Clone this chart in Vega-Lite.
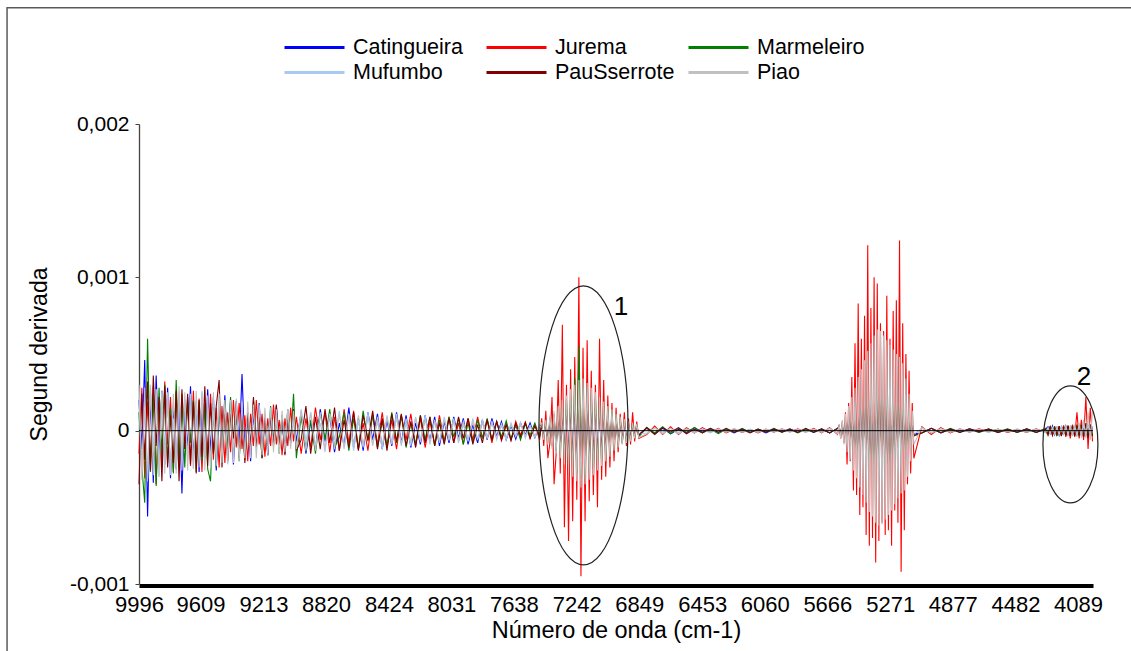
{
  "$schema": "https://vega.github.io/schema/vega-lite/v6.json",
  "width": 954,
  "height": 460,
  "autosize": {"type": "none"},
  "padding": {"left": 139, "top": 124, "right": 38, "bottom": 67},
  "background": "#ffffff",
  "config": {"view": {"stroke": null}, "font": "Liberation Sans"},
  "datasets": {
    "espectros": [
      {"x":9996,"Catingueira":2.0e-4,"Jurema":-1.5e-4,"Marmeleiro":1.2e-4,"Mufumbo":2.2e-4,"PauSserrote":-3.5e-4,"Piao":3.0e-4},
      {"x":9978,"Catingueira":-1.2e-4,"Jurema":2.8e-4,"Marmeleiro":-2.4e-4,"Mufumbo":-2.6e-4,"PauSserrote":2.4e-4,"Piao":-3.2e-4},
      {"x":9960,"Catingueira":4.6e-4,"Jurema":-3.1e-4,"Marmeleiro":-4.7e-4,"Mufumbo":1.4e-4,"PauSserrote":-1.9e-4,"Piao":2.8e-4},
      {"x":9942,"Catingueira":-5.6e-4,"Jurema":1.9e-4,"Marmeleiro":6.0e-4,"Mufumbo":-3.3e-4,"PauSserrote":3.2e-4,"Piao":-3.1e-4},
      {"x":9924,"Catingueira":2.5e-4,"Jurema":-2.2e-4,"Marmeleiro":-2.7e-4,"Mufumbo":2.9e-4,"PauSserrote":-2.6e-4,"Piao":3.0e-4},
      {"x":9906,"Catingueira":-3.4e-4,"Jurema":2.9e-4,"Marmeleiro":2.3e-4,"Mufumbo":-1.4e-4,"PauSserrote":3.6e-4,"Piao":-2.9e-4},
      {"x":9888,"Catingueira":3.6e-4,"Jurema":-3.5e-4,"Marmeleiro":-3.6e-4,"Mufumbo":2.7e-4,"PauSserrote":-1.0e-4,"Piao":2.7e-4},
      {"x":9870,"Catingueira":-1.6e-4,"Jurema":1.6e-4,"Marmeleiro":2.8e-4,"Mufumbo":-3.0e-4,"PauSserrote":2.2e-4,"Piao":-3.0e-4},
      {"x":9852,"Catingueira":2.6e-4,"Jurema":-2.4e-4,"Marmeleiro":-1.5e-4,"Mufumbo":2.5e-4,"PauSserrote":-3.3e-4,"Piao":2.6e-4},
      {"x":9834,"Catingueira":-2.2e-4,"Jurema":3.2e-4,"Marmeleiro":3.0e-4,"Mufumbo":-1.8e-4,"PauSserrote":2.9e-4,"Piao":-2.8e-4},
      {"x":9816,"Catingueira":2.8e-4,"Jurema":-0.9e-4,"Marmeleiro":-2.1e-4,"Mufumbo":2.3e-4,"PauSserrote":-2.4e-4,"Piao":2.5e-4},
      {"x":9798,"Catingueira":-3.1e-4,"Jurema":2.2e-4,"Marmeleiro":1.5e-4,"Mufumbo":-2.6e-4,"PauSserrote":1.0e-4,"Piao":-2.9e-4},
      {"x":9780,"Catingueira":1.7e-4,"Jurema":-2.7e-4,"Marmeleiro":-2.8e-4,"Mufumbo":0.8e-4,"PauSserrote":-2.1e-4,"Piao":2.4e-4},
      {"x":9762,"Catingueira":-2.5e-4,"Jurema":2.5e-4,"Marmeleiro":3.3e-4,"Mufumbo":-2.2e-4,"PauSserrote":2.6e-4,"Piao":-2.8e-4},
      {"x":9744,"Catingueira":2.2e-4,"Jurema":-2.0e-4,"Marmeleiro":-2.2e-4,"Mufumbo":2.5e-4,"PauSserrote":-3.3e-4,"Piao":2.9e-4},
      {"x":9726,"Catingueira":-4.1e-4,"Jurema":2.4e-4,"Marmeleiro":1.9e-4,"Mufumbo":-2.0e-4,"PauSserrote":2.7e-4,"Piao":-2.6e-4},
      {"x":9708,"Catingueira":2.0e-4,"Jurema":-1.2e-4,"Marmeleiro":-2.4e-4,"Mufumbo":2.2e-4,"PauSserrote":-1.2e-4,"Piao":2.5e-4},
      {"x":9690,"Catingueira":-1.3e-4,"Jurema":1.9e-4,"Marmeleiro":2.2e-4,"Mufumbo":-1.9e-4,"PauSserrote":2.4e-4,"Piao":-2.6e-4},
      {"x":9672,"Catingueira":2.9e-4,"Jurema":-2.3e-4,"Marmeleiro":-0.8e-4,"Mufumbo":2.1e-4,"PauSserrote":-2.2e-4,"Piao":2.4e-4},
      {"x":9654,"Catingueira":-2.0e-4,"Jurema":2.6e-4,"Marmeleiro":2.0e-4,"Mufumbo":-2.4e-4,"PauSserrote":1.9e-4,"Piao":-2.5e-4},
      {"x":9636,"Catingueira":1.9e-4,"Jurema":-1.8e-4,"Marmeleiro":-2.7e-4,"Mufumbo":1.8e-4,"PauSserrote":-2.8e-4,"Piao":2.6e-4},
      {"x":9618,"Catingueira":-2.7e-4,"Jurema":2.1e-4,"Marmeleiro":1.9e-4,"Mufumbo":-1.7e-4,"PauSserrote":2.0e-4,"Piao":-2.4e-4},
      {"x":9600,"Catingueira":1.6e-4,"Jurema":-2.7e-4,"Marmeleiro":-2.0e-4,"Mufumbo":2.6e-4,"PauSserrote":-1.7e-4,"Piao":2.5e-4},
      {"x":9582,"Catingueira":-1.8e-4,"Jurema":1.8e-4,"Marmeleiro":1.6e-4,"Mufumbo":-1.6e-4,"PauSserrote":2.9e-4,"Piao":-2.6e-4},
      {"x":9564,"Catingueira":2.7e-4,"Jurema":-1.5e-4,"Marmeleiro":-2.5e-4,"Mufumbo":1.5e-4,"PauSserrote":-2.3e-4,"Piao":2.3e-4},
      {"x":9546,"Catingueira":-1.5e-4,"Jurema":2.4e-4,"Marmeleiro":-3.3e-4,"Mufumbo":-2.4e-4,"PauSserrote":1.8e-4,"Piao":-2.4e-4},
      {"x":9528,"Catingueira":2.2e-4,"Jurema":-1.9e-4,"Marmeleiro":1.6e-4,"Mufumbo":1.4e-4,"PauSserrote":-1.5e-4,"Piao":2.5e-4},
      {"x":9510,"Catingueira":-2.6e-4,"Jurema":1.5e-4,"Marmeleiro":-2.4e-4,"Mufumbo":-1.5e-4,"PauSserrote":1.6e-4,"Piao":-2.3e-4},
      {"x":9492,"Catingueira":1.6e-4,"Jurema":-2.4e-4,"Marmeleiro":1.8e-4,"Mufumbo":2.3e-4,"PauSserrote":3.3e-4,"Piao":2.4e-4},
      {"x":9474,"Catingueira":-1.7e-4,"Jurema":1.6e-4,"Marmeleiro":-1.4e-4,"Mufumbo":-1.4e-4,"PauSserrote":-2.4e-4,"Piao":-2.1e-4},
      {"x":9456,"Catingueira":2.3e-4,"Jurema":-2.1e-4,"Marmeleiro":2.0e-4,"Mufumbo":1.2e-4,"PauSserrote":1.3e-4,"Piao":2.0e-4},
      {"x":9438,"Catingueira":-1.4e-4,"Jurema":1.2e-4,"Marmeleiro":-1.3e-4,"Mufumbo":-2.2e-4,"PauSserrote":-2.0e-4,"Piao":-2.1e-4},
      {"x":9420,"Catingueira":2.0e-4,"Jurema":-1.4e-4,"Marmeleiro":2.2e-4,"Mufumbo":1.3e-4,"PauSserrote":1.1e-4,"Piao":2.0e-4},
      {"x":9402,"Catingueira":-2.2e-4,"Jurema":2.0e-4,"Marmeleiro":-1.4e-4,"Mufumbo":-1.2e-4,"PauSserrote":-0.5e-4,"Piao":-2.1e-4},
      {"x":9384,"Catingueira":1.3e-4,"Jurema":-1.1e-4,"Marmeleiro":1.3e-4,"Mufumbo":2.1e-4,"PauSserrote":1.9e-4,"Piao":1.9e-4},
      {"x":9366,"Catingueira":-1.1e-4,"Jurema":1.8e-4,"Marmeleiro":-2.0e-4,"Mufumbo":-1.4e-4,"PauSserrote":-1.7e-4,"Piao":-2.0e-4},
      {"x":9348,"Catingueira":3.7e-4,"Jurema":-1.2e-4,"Marmeleiro":1.2e-4,"Mufumbo":1.0e-4,"PauSserrote":1.1e-4,"Piao":1.9e-4},
      {"x":9330,"Catingueira":-1.2e-4,"Jurema":1.0e-4,"Marmeleiro":-1.9e-4,"Mufumbo":-1.8e-4,"PauSserrote":-2.1e-4,"Piao":-1.8e-4},
      {"x":9312,"Catingueira":1.0e-4,"Jurema":-2.0e-4,"Marmeleiro":1.0e-4,"Mufumbo":1.1e-4,"PauSserrote":1.2e-4,"Piao":1.9e-4},
      {"x":9294,"Catingueira":-2.0e-4,"Jurema":1.1e-4,"Marmeleiro":-1.2e-4,"Mufumbo":-1.0e-4,"PauSserrote":-1.0e-4,"Piao":-1.8e-4},
      {"x":9276,"Catingueira":1.1e-4,"Jurema":-1.0e-4,"Marmeleiro":2.0e-4,"Mufumbo":1.9e-4,"PauSserrote":2.2e-4,"Piao":1.7e-4},
      {"x":9258,"Catingueira":-0.9e-4,"Jurema":2.0e-4,"Marmeleiro":-1.0e-4,"Mufumbo":-0.8e-4,"PauSserrote":-1.1e-4,"Piao":-1.8e-4},
      {"x":9240,"Catingueira":1.8e-4,"Jurema":-0.9e-4,"Marmeleiro":1.1e-4,"Mufumbo":1.0e-4,"PauSserrote":0.9e-4,"Piao":1.7e-4},
      {"x":9222,"Catingueira":-1.3e-4,"Jurema":1.1e-4,"Marmeleiro":-1.8e-4,"Mufumbo":-1.6e-4,"PauSserrote":-1.8e-4,"Piao":-1.6e-4},
      {"x":9204,"Catingueira":1.0e-4,"Jurema":-1.7e-4,"Marmeleiro":0.8e-4,"Mufumbo":0.9e-4,"PauSserrote":1.0e-4,"Piao":1.5e-4},
      {"x":9186,"Catingueira":-1.6e-4,"Jurema":0.8e-4,"Marmeleiro":-1.0e-4,"Mufumbo":-0.8e-4,"PauSserrote":-1.6e-4,"Piao":-1.6e-4},
      {"x":9168,"Catingueira":1.0e-4,"Jurema":-1.0e-4,"Marmeleiro":1.6e-4,"Mufumbo":1.5e-4,"PauSserrote":1.1e-4,"Piao":1.5e-4},
      {"x":9150,"Catingueira":-0.8e-4,"Jurema":1.7e-4,"Marmeleiro":-0.7e-4,"Mufumbo":-0.9e-4,"PauSserrote":-1.0e-4,"Piao":-1.4e-4},
      {"x":9132,"Catingueira":1.6e-4,"Jurema":-0.9e-4,"Marmeleiro":0.8e-4,"Mufumbo":0.8e-4,"PauSserrote":1.7e-4,"Piao":1.4e-4},
      {"x":9114,"Catingueira":-1.0e-4,"Jurema":0.7e-4,"Marmeleiro":-1.5e-4,"Mufumbo":-1.4e-4,"PauSserrote":-0.9e-4,"Piao":-1.5e-4},
      {"x":9096,"Catingueira":0.7e-4,"Jurema":-1.6e-4,"Marmeleiro":0.9e-4,"Mufumbo":0.7e-4,"PauSserrote":1.0e-4,"Piao":1.3e-4},
      {"x":9078,"Catingueira":-1.5e-4,"Jurema":0.8e-4,"Marmeleiro":-0.8e-4,"Mufumbo":-0.6e-4,"PauSserrote":-1.6e-4,"Piao":-1.4e-4},
      {"x":9060,"Catingueira":0.9e-4,"Jurema":-1.0e-4,"Marmeleiro":1.4e-4,"Mufumbo":1.4e-4,"PauSserrote":0.8e-4,"Piao":1.3e-4},
      {"x":9042,"Catingueira":-0.8e-4,"Jurema":1.5e-4,"Marmeleiro":-0.8e-4,"Mufumbo":-0.7e-4,"PauSserrote":-0.7e-4,"Piao":-1.2e-4},
      {"x":9024,"Catingueira":1.4e-4,"Jurema":-0.7e-4,"Marmeleiro":2.4e-4,"Mufumbo":0.6e-4,"PauSserrote":1.4e-4,"Piao":1.3e-4},
      {"x":9006,"Catingueira":-0.7e-4,"Jurema":0.9e-4,"Marmeleiro":-1.8e-4,"Mufumbo":-1.3e-4,"PauSserrote":-1.3e-4,"Piao":-1.2e-4},
      {"x":8976,"Catingueira":1.2e-4,"Jurema":-1.5e-4,"Marmeleiro":1.0e-4,"Mufumbo":1.4e-4,"PauSserrote":-0.6e-4,"Piao":1.3e-4},
      {"x":8946,"Catingueira":-1.5e-4,"Jurema":0.8e-4,"Marmeleiro":-1.3e-4,"Mufumbo":-0.7e-4,"PauSserrote":1.6e-4,"Piao":-1.3e-4},
      {"x":8916,"Catingueira":0.6e-4,"Jurema":-1.1e-4,"Marmeleiro":0.7e-4,"Mufumbo":1.2e-4,"PauSserrote":-1.5e-4,"Piao":1.2e-4},
      {"x":8886,"Catingueira":-1.2e-4,"Jurema":1.5e-4,"Marmeleiro":-1.5e-4,"Mufumbo":-1.0e-4,"PauSserrote":0.9e-4,"Piao":-1.3e-4},
      {"x":8856,"Catingueira":1.4e-4,"Jurema":-0.6e-4,"Marmeleiro":1.2e-4,"Mufumbo":0.5e-4,"PauSserrote":-1.2e-4,"Piao":1.2e-4},
      {"x":8826,"Catingueira":-0.7e-4,"Jurema":1.2e-4,"Marmeleiro":-0.6e-4,"Mufumbo":-1.4e-4,"PauSserrote":1.4e-4,"Piao":-1.2e-4},
      {"x":8796,"Catingueira":1.0e-4,"Jurema":-1.4e-4,"Marmeleiro":1.4e-4,"Mufumbo":1.1e-4,"PauSserrote":-0.8e-4,"Piao":1.1e-4},
      {"x":8766,"Catingueira":-1.4e-4,"Jurema":0.9e-4,"Marmeleiro":-1.1e-4,"Mufumbo":-0.6e-4,"PauSserrote":1.5e-4,"Piao":-1.2e-4},
      {"x":8736,"Catingueira":0.5e-4,"Jurema":-1.3e-4,"Marmeleiro":-0.4e-4,"Mufumbo":1.3e-4,"PauSserrote":-1.3e-4,"Piao":1.1e-4},
      {"x":8706,"Catingueira":-1.0e-4,"Jurema":1.4e-4,"Marmeleiro":1.2e-4,"Mufumbo":-1.2e-4,"PauSserrote":0.7e-4,"Piao":-1.1e-4},
      {"x":8676,"Catingueira":1.5e-4,"Jurema":-0.8e-4,"Marmeleiro":-1.3e-4,"Mufumbo":0.9e-4,"PauSserrote":-1.1e-4,"Piao":1.1e-4},
      {"x":8646,"Catingueira":-1.1e-4,"Jurema":1.3e-4,"Marmeleiro":0.8e-4,"Mufumbo":-1.3e-4,"PauSserrote":1.2e-4,"Piao":-1.0e-4},
      {"x":8616,"Catingueira":0.8e-4,"Jurema":-1.2e-4,"Marmeleiro":-1.2e-4,"Mufumbo":0.7e-4,"PauSserrote":-1.3e-4,"Piao":1.0e-4},
      {"x":8586,"Catingueira":-1.3e-4,"Jurema":0.5e-4,"Marmeleiro":1.3e-4,"Mufumbo":-1.1e-4,"PauSserrote":1.0e-4,"Piao":-1.0e-4},
      {"x":8556,"Catingueira":1.2e-4,"Jurema":-1.3e-4,"Marmeleiro":-0.7e-4,"Mufumbo":1.2e-4,"PauSserrote":-0.6e-4,"Piao":0.95e-4},
      {"x":8526,"Catingueira":-0.6e-4,"Jurema":1.1e-4,"Marmeleiro":1.0e-4,"Mufumbo":-0.9e-4,"PauSserrote":1.3e-4,"Piao":-1.0e-4},
      {"x":8496,"Catingueira":1.1e-4,"Jurema":-0.9e-4,"Marmeleiro":-1.1e-4,"Mufumbo":0.6e-4,"PauSserrote":-1.2e-4,"Piao":0.9e-4},
      {"x":8466,"Catingueira":-1.2e-4,"Jurema":1.2e-4,"Marmeleiro":0.6e-4,"Mufumbo":-1.2e-4,"PauSserrote":0.8e-4,"Piao":-0.95e-4},
      {"x":8436,"Catingueira":0.7e-4,"Jurema":-1.1e-4,"Marmeleiro":-1.0e-4,"Mufumbo":1.0e-4,"PauSserrote":-1.3e-4,"Piao":0.9e-4},
      {"x":8406,"Catingueira":-1.0e-4,"Jurema":0.7e-4,"Marmeleiro":1.2e-4,"Mufumbo":-0.8e-4,"PauSserrote":1.1e-4,"Piao":-0.9e-4},
      {"x":8376,"Catingueira":1.2e-4,"Jurema":-1.2e-4,"Marmeleiro":-0.8e-4,"Mufumbo":1.1e-4,"PauSserrote":-0.7e-4,"Piao":0.85e-4},
      {"x":8346,"Catingueira":-0.8e-4,"Jurema":1.0e-4,"Marmeleiro":1.0e-4,"Mufumbo":-1.0e-4,"PauSserrote":1.1e-4,"Piao":-0.85e-4},
      {"x":8316,"Catingueira":1.0e-4,"Jurema":-0.6e-4,"Marmeleiro":-1.1e-4,"Mufumbo":0.5e-4,"PauSserrote":-1.0e-4,"Piao":0.8e-4},
      {"x":8286,"Catingueira":-1.1e-4,"Jurema":1.1e-4,"Marmeleiro":0.5e-4,"Mufumbo":-1.0e-4,"PauSserrote":0.6e-4,"Piao":-0.8e-4},
      {"x":8256,"Catingueira":0.5e-4,"Jurema":-1.0e-4,"Marmeleiro":-0.9e-4,"Mufumbo":0.9e-4,"PauSserrote":-1.1e-4,"Piao":0.8e-4},
      {"x":8226,"Catingueira":-0.9e-4,"Jurema":0.8e-4,"Marmeleiro":1.0e-4,"Mufumbo":-0.6e-4,"PauSserrote":1.0e-4,"Piao":-0.75e-4},
      {"x":8196,"Catingueira":1.0e-4,"Jurema":-1.1e-4,"Marmeleiro":-0.6e-4,"Mufumbo":1.0e-4,"PauSserrote":-0.8e-4,"Piao":0.75e-4},
      {"x":8166,"Catingueira":-0.7e-4,"Jurema":0.6e-4,"Marmeleiro":0.9e-4,"Mufumbo":-0.9e-4,"PauSserrote":0.9e-4,"Piao":-0.75e-4},
      {"x":8136,"Catingueira":0.9e-4,"Jurema":-0.9e-4,"Marmeleiro":-1.0e-4,"Mufumbo":0.6e-4,"PauSserrote":-1.0e-4,"Piao":0.7e-4},
      {"x":8106,"Catingueira":-1.0e-4,"Jurema":1.0e-4,"Marmeleiro":0.7e-4,"Mufumbo":-0.8e-4,"PauSserrote":0.5e-4,"Piao":-0.7e-4},
      {"x":8076,"Catingueira":0.6e-4,"Jurema":-0.7e-4,"Marmeleiro":-0.8e-4,"Mufumbo":0.9e-4,"PauSserrote":-0.9e-4,"Piao":0.7e-4},
      {"x":8046,"Catingueira":-0.8e-4,"Jurema":0.9e-4,"Marmeleiro":0.9e-4,"Mufumbo":-0.5e-4,"PauSserrote":0.8e-4,"Piao":-0.65e-4},
      {"x":8016,"Catingueira":0.9e-4,"Jurema":-0.8e-4,"Marmeleiro":-0.4e-4,"Mufumbo":0.8e-4,"PauSserrote":-0.8e-4,"Piao":0.6e-4},
      {"x":7986,"Catingueira":-0.5e-4,"Jurema":0.5e-4,"Marmeleiro":0.8e-4,"Mufumbo":-0.8e-4,"PauSserrote":0.9e-4,"Piao":-0.6e-4},
      {"x":7956,"Catingueira":0.8e-4,"Jurema":-0.9e-4,"Marmeleiro":-0.9e-4,"Mufumbo":0.4e-4,"PauSserrote":-0.5e-4,"Piao":0.6e-4},
      {"x":7926,"Catingueira":-0.9e-4,"Jurema":0.8e-4,"Marmeleiro":0.5e-4,"Mufumbo":-0.7e-4,"PauSserrote":0.8e-4,"Piao":-0.55e-4},
      {"x":7896,"Catingueira":0.4e-4,"Jurema":-0.6e-4,"Marmeleiro":-0.8e-4,"Mufumbo":0.8e-4,"PauSserrote":-0.9e-4,"Piao":0.55e-4},
      {"x":7866,"Catingueira":-0.8e-4,"Jurema":0.9e-4,"Marmeleiro":0.7e-4,"Mufumbo":-0.6e-4,"PauSserrote":0.4e-4,"Piao":-0.55e-4},
      {"x":7836,"Catingueira":0.7e-4,"Jurema":-0.5e-4,"Marmeleiro":-0.5e-4,"Mufumbo":0.7e-4,"PauSserrote":-0.8e-4,"Piao":0.5e-4},
      {"x":7806,"Catingueira":-0.6e-4,"Jurema":0.7e-4,"Marmeleiro":0.8e-4,"Mufumbo":-0.4e-4,"PauSserrote":0.7e-4,"Piao":-0.5e-4},
      {"x":7776,"Catingueira":0.8e-4,"Jurema":-0.8e-4,"Marmeleiro":-0.6e-4,"Mufumbo":0.6e-4,"PauSserrote":-0.6e-4,"Piao":0.5e-4},
      {"x":7746,"Catingueira":-0.4e-4,"Jurema":0.6e-4,"Marmeleiro":0.6e-4,"Mufumbo":-0.6e-4,"PauSserrote":0.6e-4,"Piao":-0.45e-4},
      {"x":7716,"Catingueira":0.6e-4,"Jurema":-0.65e-4,"Marmeleiro":-0.4e-4,"Mufumbo":0.35e-4,"PauSserrote":-0.6e-4,"Piao":0.45e-4},
      {"x":7686,"Catingueira":-0.6e-4,"Jurema":0.4e-4,"Marmeleiro":0.65e-4,"Mufumbo":-0.6e-4,"PauSserrote":0.4e-4,"Piao":-0.45e-4},
      {"x":7656,"Catingueira":0.35e-4,"Jurema":-0.6e-4,"Marmeleiro":-0.55e-4,"Mufumbo":0.5e-4,"PauSserrote":-0.65e-4,"Piao":0.4e-4},
      {"x":7626,"Catingueira":-0.55e-4,"Jurema":0.6e-4,"Marmeleiro":0.35e-4,"Mufumbo":-0.3e-4,"PauSserrote":0.5e-4,"Piao":-0.4e-4},
      {"x":7596,"Catingueira":0.5e-4,"Jurema":-0.3e-4,"Marmeleiro":-0.6e-4,"Mufumbo":0.55e-4,"PauSserrote":-0.4e-4,"Piao":0.4e-4},
      {"x":7566,"Catingueira":-0.3e-4,"Jurema":0.55e-4,"Marmeleiro":0.45e-4,"Mufumbo":-0.5e-4,"PauSserrote":0.55e-4,"Piao":-0.35e-4},
      {"x":7536,"Catingueira":0.5e-4,"Jurema":-0.5e-4,"Marmeleiro":-0.3e-4,"Mufumbo":0.3e-4,"PauSserrote":-0.5e-4,"Piao":0.35e-4},
      {"x":7506,"Catingueira":-0.45e-4,"Jurema":0.4e-4,"Marmeleiro":0.5e-4,"Mufumbo":-0.45e-4,"PauSserrote":0.3e-4,"Piao":-0.35e-4},
      {"x":7476,"Catingueira":0.3e-4,"Jurema":-0.6e-4,"Marmeleiro":-0.4e-4,"Mufumbo":0.3e-4,"PauSserrote":-0.35e-4,"Piao":0.4e-4},
      {"x":7463,"Catingueira":0.3e-4,"Jurema":0.8e-4,"Marmeleiro":0.4e-4,"Mufumbo":0.2e-4,"PauSserrote":0.3e-4,"Piao":0.5e-4},
      {"x":7450,"Catingueira":-0.3e-4,"Jurema":-1.0e-4,"Marmeleiro":-0.5e-4,"Mufumbo":-0.2e-4,"PauSserrote":-0.35e-4,"Piao":-0.6e-4},
      {"x":7437,"Catingueira":0.35e-4,"Jurema":1.3e-4,"Marmeleiro":0.6e-4,"Mufumbo":0.25e-4,"PauSserrote":0.4e-4,"Piao":0.7e-4},
      {"x":7424,"Catingueira":-0.4e-4,"Jurema":-1.8e-4,"Marmeleiro":-0.8e-4,"Mufumbo":-0.3e-4,"PauSserrote":-0.5e-4,"Piao":-0.9e-4},
      {"x":7411,"Catingueira":0.4e-4,"Jurema":-0.8e-4,"Marmeleiro":0.85e-4,"Mufumbo":0.3e-4,"PauSserrote":0.55e-4,"Piao":1.0e-4},
      {"x":7398,"Catingueira":-0.45e-4,"Jurema":2.2e-4,"Marmeleiro":-1.0e-4,"Mufumbo":-0.35e-4,"PauSserrote":-0.7e-4,"Piao":-1.2e-4},
      {"x":7385,"Catingueira":0.5e-4,"Jurema":-3.5e-4,"Marmeleiro":1.1e-4,"Mufumbo":0.4e-4,"PauSserrote":0.75e-4,"Piao":1.3e-4},
      {"x":7372,"Catingueira":-0.5e-4,"Jurema":-1.5e-4,"Marmeleiro":-1.3e-4,"Mufumbo":-0.4e-4,"PauSserrote":-0.9e-4,"Piao":-1.5e-4},
      {"x":7359,"Catingueira":0.55e-4,"Jurema":3.3e-4,"Marmeleiro":1.4e-4,"Mufumbo":0.45e-4,"PauSserrote":0.95e-4,"Piao":1.6e-4},
      {"x":7346,"Catingueira":-0.6e-4,"Jurema":-2.8e-4,"Marmeleiro":-1.5e-4,"Mufumbo":-0.5e-4,"PauSserrote":-1.1e-4,"Piao":-1.8e-4},
      {"x":7333,"Catingueira":0.6e-4,"Jurema":6.9e-4,"Marmeleiro":1.7e-4,"Mufumbo":0.5e-4,"PauSserrote":1.2e-4,"Piao":2.0e-4},
      {"x":7320,"Catingueira":-0.7e-4,"Jurema":-6.3e-4,"Marmeleiro":-1.9e-4,"Mufumbo":-0.55e-4,"PauSserrote":-1.3e-4,"Piao":-2.2e-4},
      {"x":7307,"Catingueira":0.7e-4,"Jurema":3.0e-4,"Marmeleiro":2.0e-4,"Mufumbo":0.6e-4,"PauSserrote":1.4e-4,"Piao":2.3e-4},
      {"x":7294,"Catingueira":-0.75e-4,"Jurema":-7.2e-4,"Marmeleiro":-2.2e-4,"Mufumbo":-0.6e-4,"PauSserrote":-1.5e-4,"Piao":-2.6e-4},
      {"x":7281,"Catingueira":0.8e-4,"Jurema":4.0e-4,"Marmeleiro":2.3e-4,"Mufumbo":0.65e-4,"PauSserrote":1.6e-4,"Piao":2.7e-4},
      {"x":7268,"Catingueira":-0.8e-4,"Jurema":-5.9e-4,"Marmeleiro":-2.5e-4,"Mufumbo":-0.7e-4,"PauSserrote":-1.8e-4,"Piao":-3.0e-4},
      {"x":7255,"Catingueira":0.85e-4,"Jurema":4.8e-4,"Marmeleiro":3.4e-4,"Mufumbo":0.7e-4,"PauSserrote":1.8e-4,"Piao":3.0e-4},
      {"x":7242,"Catingueira":-0.9e-4,"Jurema":-4.5e-4,"Marmeleiro":-2.8e-4,"Mufumbo":-0.75e-4,"PauSserrote":-2.0e-4,"Piao":-3.3e-4},
      {"x":7229,"Catingueira":0.9e-4,"Jurema":10.0e-4,"Marmeleiro":5.5e-4,"Mufumbo":0.8e-4,"PauSserrote":2.0e-4,"Piao":3.3e-4},
      {"x":7216,"Catingueira":-0.85e-4,"Jurema":-9.5e-4,"Marmeleiro":-3.1e-4,"Mufumbo":-0.8e-4,"PauSserrote":-2.2e-4,"Piao":-3.7e-4},
      {"x":7203,"Catingueira":0.8e-4,"Jurema":5.4e-4,"Marmeleiro":2.9e-4,"Mufumbo":0.75e-4,"PauSserrote":2.0e-4,"Piao":3.4e-4},
      {"x":7190,"Catingueira":-0.85e-4,"Jurema":-5.9e-4,"Marmeleiro":-3.0e-4,"Mufumbo":-0.75e-4,"PauSserrote":-2.1e-4,"Piao":-3.5e-4},
      {"x":7177,"Catingueira":0.75e-4,"Jurema":5.9e-4,"Marmeleiro":2.6e-4,"Mufumbo":0.7e-4,"PauSserrote":1.9e-4,"Piao":3.1e-4},
      {"x":7164,"Catingueira":-0.85e-4,"Jurema":-4.6e-4,"Marmeleiro":-2.7e-4,"Mufumbo":-0.7e-4,"PauSserrote":-1.9e-4,"Piao":-3.2e-4},
      {"x":7151,"Catingueira":0.7e-4,"Jurema":3.9e-4,"Marmeleiro":2.4e-4,"Mufumbo":0.65e-4,"PauSserrote":1.7e-4,"Piao":2.8e-4},
      {"x":7138,"Catingueira":-0.7e-4,"Jurema":-4.2e-4,"Marmeleiro":-2.5e-4,"Mufumbo":-0.6e-4,"PauSserrote":-1.7e-4,"Piao":-2.9e-4},
      {"x":7125,"Catingueira":0.65e-4,"Jurema":3.0e-4,"Marmeleiro":2.1e-4,"Mufumbo":0.6e-4,"PauSserrote":1.5e-4,"Piao":2.5e-4},
      {"x":7112,"Catingueira":-0.6e-4,"Jurema":-5.0e-4,"Marmeleiro":-2.2e-4,"Mufumbo":-0.55e-4,"PauSserrote":-1.5e-4,"Piao":-2.6e-4},
      {"x":7099,"Catingueira":0.6e-4,"Jurema":6.0e-4,"Marmeleiro":1.9e-4,"Mufumbo":0.5e-4,"PauSserrote":1.3e-4,"Piao":2.2e-4},
      {"x":7086,"Catingueira":-0.55e-4,"Jurema":-3.2e-4,"Marmeleiro":-2.0e-4,"Mufumbo":-0.5e-4,"PauSserrote":-1.4e-4,"Piao":-2.3e-4},
      {"x":7073,"Catingueira":0.5e-4,"Jurema":3.3e-4,"Marmeleiro":1.6e-4,"Mufumbo":0.45e-4,"PauSserrote":1.1e-4,"Piao":1.9e-4},
      {"x":7060,"Catingueira":-0.5e-4,"Jurema":-3.0e-4,"Marmeleiro":-1.7e-4,"Mufumbo":-0.45e-4,"PauSserrote":-1.2e-4,"Piao":-2.0e-4},
      {"x":7047,"Catingueira":0.45e-4,"Jurema":2.3e-4,"Marmeleiro":1.4e-4,"Mufumbo":0.4e-4,"PauSserrote":0.95e-4,"Piao":1.6e-4},
      {"x":7034,"Catingueira":-0.45e-4,"Jurema":-2.4e-4,"Marmeleiro":-1.4e-4,"Mufumbo":-0.4e-4,"PauSserrote":-1.0e-4,"Piao":-1.7e-4},
      {"x":7021,"Catingueira":0.4e-4,"Jurema":1.8e-4,"Marmeleiro":1.2e-4,"Mufumbo":0.35e-4,"PauSserrote":0.8e-4,"Piao":1.4e-4},
      {"x":7008,"Catingueira":-0.4e-4,"Jurema":-2.0e-4,"Marmeleiro":-1.1e-4,"Mufumbo":-0.35e-4,"PauSserrote":-0.8e-4,"Piao":-1.3e-4},
      {"x":6995,"Catingueira":0.35e-4,"Jurema":1.5e-4,"Marmeleiro":0.95e-4,"Mufumbo":0.3e-4,"PauSserrote":0.65e-4,"Piao":1.1e-4},
      {"x":6982,"Catingueira":-0.35e-4,"Jurema":-1.4e-4,"Marmeleiro":-0.95e-4,"Mufumbo":-0.3e-4,"PauSserrote":-0.65e-4,"Piao":-1.1e-4},
      {"x":6969,"Catingueira":0.3e-4,"Jurema":1.1e-4,"Marmeleiro":0.8e-4,"Mufumbo":0.3e-4,"PauSserrote":0.55e-4,"Piao":0.9e-4},
      {"x":6956,"Catingueira":-0.3e-4,"Jurema":-0.85e-4,"Marmeleiro":-0.8e-4,"Mufumbo":-0.25e-4,"PauSserrote":-0.55e-4,"Piao":-0.9e-4},
      {"x":6943,"Catingueira":0.3e-4,"Jurema":1.2e-4,"Marmeleiro":0.65e-4,"Mufumbo":0.25e-4,"PauSserrote":0.45e-4,"Piao":0.75e-4},
      {"x":6930,"Catingueira":-0.3e-4,"Jurema":-1.0e-4,"Marmeleiro":-0.7e-4,"Mufumbo":-0.25e-4,"PauSserrote":-0.5e-4,"Piao":-0.8e-4},
      {"x":6917,"Catingueira":0.25e-4,"Jurema":0.8e-4,"Marmeleiro":0.5e-4,"Mufumbo":0.2e-4,"PauSserrote":0.4e-4,"Piao":0.6e-4},
      {"x":6904,"Catingueira":-0.3e-4,"Jurema":-0.9e-4,"Marmeleiro":-0.6e-4,"Mufumbo":-0.2e-4,"PauSserrote":-0.4e-4,"Piao":-0.7e-4},
      {"x":6891,"Catingueira":0.25e-4,"Jurema":1.2e-4,"Marmeleiro":0.45e-4,"Mufumbo":0.2e-4,"PauSserrote":0.35e-4,"Piao":0.5e-4},
      {"x":6878,"Catingueira":-0.25e-4,"Jurema":-0.7e-4,"Marmeleiro":-0.45e-4,"Mufumbo":-0.2e-4,"PauSserrote":-0.3e-4,"Piao":-0.5e-4},
      {"x":6865,"Catingueira":0.25e-4,"Jurema":0.6e-4,"Marmeleiro":0.4e-4,"Mufumbo":0.2e-4,"PauSserrote":0.3e-4,"Piao":0.45e-4},
      {"x":6852,"Catingueira":-0.25e-4,"Jurema":-0.5e-4,"Marmeleiro":-0.4e-4,"Mufumbo":-0.2e-4,"PauSserrote":-0.3e-4,"Piao":-0.45e-4},
      {"x":6802,"Catingueira":0.15e-4,"Jurema":-0.25e-4,"Marmeleiro":0.2e-4,"Mufumbo":-0.15e-4,"PauSserrote":0.2e-4,"Piao":-0.2e-4},
      {"x":6752,"Catingueira":-0.2e-4,"Jurema":0.3e-4,"Marmeleiro":-0.15e-4,"Mufumbo":0.15e-4,"PauSserrote":-0.25e-4,"Piao":0.2e-4},
      {"x":6702,"Catingueira":0.15e-4,"Jurema":-0.25e-4,"Marmeleiro":0.25e-4,"Mufumbo":-0.1e-4,"PauSserrote":0.2e-4,"Piao":-0.2e-4},
      {"x":6652,"Catingueira":-0.2e-4,"Jurema":0.25e-4,"Marmeleiro":-0.2e-4,"Mufumbo":0.15e-4,"PauSserrote":-0.1e-4,"Piao":0.15e-4},
      {"x":6602,"Catingueira":0.1e-4,"Jurema":-0.25e-4,"Marmeleiro":0.15e-4,"Mufumbo":-0.2e-4,"PauSserrote":0.2e-4,"Piao":-0.15e-4},
      {"x":6552,"Catingueira":-0.15e-4,"Jurema":0.2e-4,"Marmeleiro":-0.1e-4,"Mufumbo":0.1e-4,"PauSserrote":-0.2e-4,"Piao":0.12e-4},
      {"x":6502,"Catingueira":0.2e-4,"Jurema":-0.15e-4,"Marmeleiro":0.2e-4,"Mufumbo":-0.15e-4,"PauSserrote":0.1e-4,"Piao":-0.1e-4},
      {"x":6452,"Catingueira":-0.1e-4,"Jurema":0.2e-4,"Marmeleiro":-0.15e-4,"Mufumbo":0.1e-4,"PauSserrote":-0.15e-4,"Piao":0.1e-4},
      {"x":6402,"Catingueira":0.15e-4,"Jurema":-0.1e-4,"Marmeleiro":0.1e-4,"Mufumbo":-0.15e-4,"PauSserrote":0.15e-4,"Piao":-0.08e-4},
      {"x":6352,"Catingueira":-0.12e-4,"Jurema":0.15e-4,"Marmeleiro":-0.2e-4,"Mufumbo":0.12e-4,"PauSserrote":-0.1e-4,"Piao":0.08e-4},
      {"x":6302,"Catingueira":0.1e-4,"Jurema":-0.15e-4,"Marmeleiro":0.1e-4,"Mufumbo":-0.1e-4,"PauSserrote":0.15e-4,"Piao":-0.08e-4},
      {"x":6252,"Catingueira":-0.15e-4,"Jurema":0.1e-4,"Marmeleiro":-0.1e-4,"Mufumbo":0.15e-4,"PauSserrote":-0.1e-4,"Piao":0.06e-4},
      {"x":6202,"Catingueira":0.12e-4,"Jurema":-0.12e-4,"Marmeleiro":0.15e-4,"Mufumbo":-0.1e-4,"PauSserrote":0.08e-4,"Piao":-0.06e-4},
      {"x":6152,"Catingueira":-0.1e-4,"Jurema":0.08e-4,"Marmeleiro":-0.12e-4,"Mufumbo":0.08e-4,"PauSserrote":-0.15e-4,"Piao":0.06e-4},
      {"x":6102,"Catingueira":0.08e-4,"Jurema":-0.15e-4,"Marmeleiro":0.1e-4,"Mufumbo":-0.12e-4,"PauSserrote":0.1e-4,"Piao":-0.05e-4},
      {"x":6052,"Catingueira":-0.15e-4,"Jurema":0.1e-4,"Marmeleiro":-0.08e-4,"Mufumbo":0.1e-4,"PauSserrote":-0.1e-4,"Piao":0.05e-4},
      {"x":6002,"Catingueira":0.1e-4,"Jurema":-0.1e-4,"Marmeleiro":0.15e-4,"Mufumbo":-0.08e-4,"PauSserrote":0.12e-4,"Piao":-0.05e-4},
      {"x":5952,"Catingueira":-0.08e-4,"Jurema":0.12e-4,"Marmeleiro":-0.1e-4,"Mufumbo":0.12e-4,"PauSserrote":-0.1e-4,"Piao":0.05e-4},
      {"x":5902,"Catingueira":0.12e-4,"Jurema":-0.08e-4,"Marmeleiro":0.1e-4,"Mufumbo":-0.1e-4,"PauSserrote":0.08e-4,"Piao":-0.05e-4},
      {"x":5852,"Catingueira":-0.1e-4,"Jurema":0.12e-4,"Marmeleiro":-0.15e-4,"Mufumbo":0.08e-4,"PauSserrote":-0.12e-4,"Piao":0.06e-4},
      {"x":5802,"Catingueira":0.1e-4,"Jurema":-0.1e-4,"Marmeleiro":0.1e-4,"Mufumbo":-0.12e-4,"PauSserrote":0.15e-4,"Piao":-0.06e-4},
      {"x":5752,"Catingueira":-0.12e-4,"Jurema":0.15e-4,"Marmeleiro":-0.1e-4,"Mufumbo":0.1e-4,"PauSserrote":-0.1e-4,"Piao":0.08e-4},
      {"x":5702,"Catingueira":0.1e-4,"Jurema":-0.15e-4,"Marmeleiro":0.12e-4,"Mufumbo":-0.1e-4,"PauSserrote":0.12e-4,"Piao":-0.1e-4},
      {"x":5652,"Catingueira":-0.15e-4,"Jurema":0.2e-4,"Marmeleiro":-0.15e-4,"Mufumbo":0.12e-4,"PauSserrote":-0.15e-4,"Piao":0.15e-4},
      {"x":5602,"Catingueira":0.15e-4,"Jurema":-0.25e-4,"Marmeleiro":0.15e-4,"Mufumbo":-0.15e-4,"PauSserrote":0.15e-4,"Piao":-0.2e-4},
      {"x":5592,"Catingueira":0.2e-4,"Jurema":0.4e-4,"Marmeleiro":0.2e-4,"Mufumbo":0.2e-4,"PauSserrote":0.3e-4,"Piao":0.4e-4},
      {"x":5582,"Catingueira":-0.25e-4,"Jurema":-0.5e-4,"Marmeleiro":-0.25e-4,"Mufumbo":-0.25e-4,"PauSserrote":-0.3e-4,"Piao":-0.5e-4},
      {"x":5572,"Catingueira":0.3e-4,"Jurema":0.6e-4,"Marmeleiro":0.3e-4,"Mufumbo":0.3e-4,"PauSserrote":0.4e-4,"Piao":0.7e-4},
      {"x":5562,"Catingueira":-0.35e-4,"Jurema":-0.8e-4,"Marmeleiro":-0.35e-4,"Mufumbo":-0.35e-4,"PauSserrote":-0.5e-4,"Piao":-0.9e-4},
      {"x":5552,"Catingueira":0.4e-4,"Jurema":1.2e-4,"Marmeleiro":0.4e-4,"Mufumbo":0.4e-4,"PauSserrote":0.6e-4,"Piao":1.1e-4},
      {"x":5542,"Catingueira":-0.45e-4,"Jurema":-2.2e-4,"Marmeleiro":-0.5e-4,"Mufumbo":-0.45e-4,"PauSserrote":-0.7e-4,"Piao":-1.4e-4},
      {"x":5532,"Catingueira":0.5e-4,"Jurema":1.8e-4,"Marmeleiro":0.6e-4,"Mufumbo":0.5e-4,"PauSserrote":0.8e-4,"Piao":1.6e-4},
      {"x":5522,"Catingueira":-0.55e-4,"Jurema":-2.0e-4,"Marmeleiro":-0.7e-4,"Mufumbo":-0.55e-4,"PauSserrote":-0.9e-4,"Piao":-1.9e-4},
      {"x":5512,"Catingueira":0.6e-4,"Jurema":3.5e-4,"Marmeleiro":0.8e-4,"Mufumbo":0.6e-4,"PauSserrote":1.0e-4,"Piao":2.2e-4},
      {"x":5502,"Catingueira":-0.7e-4,"Jurema":-3.9e-4,"Marmeleiro":-0.9e-4,"Mufumbo":-0.65e-4,"PauSserrote":-1.1e-4,"Piao":-2.6e-4},
      {"x":5492,"Catingueira":0.75e-4,"Jurema":5.7e-4,"Marmeleiro":1.0e-4,"Mufumbo":0.7e-4,"PauSserrote":1.2e-4,"Piao":2.8e-4},
      {"x":5482,"Catingueira":-0.8e-4,"Jurema":-4.2e-4,"Marmeleiro":-1.1e-4,"Mufumbo":-0.75e-4,"PauSserrote":-1.3e-4,"Piao":-3.1e-4},
      {"x":5472,"Catingueira":0.9e-4,"Jurema":8.3e-4,"Marmeleiro":1.2e-4,"Mufumbo":0.8e-4,"PauSserrote":1.3e-4,"Piao":3.5e-4},
      {"x":5462,"Catingueira":-0.9e-4,"Jurema":-5.5e-4,"Marmeleiro":-1.3e-4,"Mufumbo":-0.85e-4,"PauSserrote":-1.4e-4,"Piao":-3.7e-4},
      {"x":5452,"Catingueira":1.0e-4,"Jurema":6.0e-4,"Marmeleiro":1.4e-4,"Mufumbo":0.9e-4,"PauSserrote":1.5e-4,"Piao":4.0e-4},
      {"x":5442,"Catingueira":-1.0e-4,"Jurema":-5.0e-4,"Marmeleiro":-1.5e-4,"Mufumbo":-0.95e-4,"PauSserrote":-1.5e-4,"Piao":-4.2e-4},
      {"x":5432,"Catingueira":1.1e-4,"Jurema":7.5e-4,"Marmeleiro":1.6e-4,"Mufumbo":1.0e-4,"PauSserrote":1.6e-4,"Piao":4.6e-4},
      {"x":5422,"Catingueira":-1.1e-4,"Jurema":-6.8e-4,"Marmeleiro":-1.7e-4,"Mufumbo":-1.0e-4,"PauSserrote":-1.6e-4,"Piao":-4.7e-4},
      {"x":5412,"Catingueira":1.2e-4,"Jurema":12.1e-4,"Marmeleiro":2.0e-4,"Mufumbo":1.1e-4,"PauSserrote":1.7e-4,"Piao":5.2e-4},
      {"x":5402,"Catingueira":-1.5e-4,"Jurema":-7.5e-4,"Marmeleiro":-2.0e-4,"Mufumbo":-1.1e-4,"PauSserrote":-1.7e-4,"Piao":-5.3e-4},
      {"x":5392,"Catingueira":1.1e-4,"Jurema":8.0e-4,"Marmeleiro":2.1e-4,"Mufumbo":1.1e-4,"PauSserrote":1.8e-4,"Piao":5.7e-4},
      {"x":5382,"Catingueira":-1.1e-4,"Jurema":-7.0e-4,"Marmeleiro":-2.2e-4,"Mufumbo":-1.2e-4,"PauSserrote":-1.8e-4,"Piao":-5.6e-4},
      {"x":5372,"Catingueira":1.2e-4,"Jurema":10.0e-4,"Marmeleiro":2.3e-4,"Mufumbo":1.2e-4,"PauSserrote":1.8e-4,"Piao":6.2e-4},
      {"x":5362,"Catingueira":-1.1e-4,"Jurema":-8.6e-4,"Marmeleiro":-2.3e-4,"Mufumbo":-1.2e-4,"PauSserrote":-1.9e-4,"Piao":-6.0e-4},
      {"x":5352,"Catingueira":1.1e-4,"Jurema":9.6e-4,"Marmeleiro":2.4e-4,"Mufumbo":1.2e-4,"PauSserrote":1.8e-4,"Piao":6.6e-4},
      {"x":5342,"Catingueira":-1.0e-4,"Jurema":-7.2e-4,"Marmeleiro":-2.4e-4,"Mufumbo":-1.15e-4,"PauSserrote":-1.9e-4,"Piao":-6.2e-4},
      {"x":5332,"Catingueira":1.0e-4,"Jurema":7.0e-4,"Marmeleiro":2.3e-4,"Mufumbo":1.1e-4,"PauSserrote":1.7e-4,"Piao":6.5e-4},
      {"x":5322,"Catingueira":-0.95e-4,"Jurema":-6.0e-4,"Marmeleiro":-2.3e-4,"Mufumbo":-1.1e-4,"PauSserrote":-2.0e-4,"Piao":-6.1e-4},
      {"x":5312,"Catingueira":0.9e-4,"Jurema":6.5e-4,"Marmeleiro":2.2e-4,"Mufumbo":1.05e-4,"PauSserrote":1.6e-4,"Piao":6.2e-4},
      {"x":5302,"Catingueira":-0.9e-4,"Jurema":-6.8e-4,"Marmeleiro":-2.2e-4,"Mufumbo":-1.0e-4,"PauSserrote":-1.9e-4,"Piao":-5.8e-4},
      {"x":5292,"Catingueira":0.85e-4,"Jurema":8.8e-4,"Marmeleiro":2.1e-4,"Mufumbo":1.0e-4,"PauSserrote":1.5e-4,"Piao":5.9e-4},
      {"x":5282,"Catingueira":-0.8e-4,"Jurema":-6.5e-4,"Marmeleiro":-2.0e-4,"Mufumbo":-0.95e-4,"PauSserrote":-2.2e-4,"Piao":-5.5e-4},
      {"x":5272,"Catingueira":0.8e-4,"Jurema":6.0e-4,"Marmeleiro":1.9e-4,"Mufumbo":0.9e-4,"PauSserrote":1.4e-4,"Piao":5.6e-4},
      {"x":5262,"Catingueira":-0.75e-4,"Jurema":-7.5e-4,"Marmeleiro":-1.9e-4,"Mufumbo":-0.9e-4,"PauSserrote":-1.6e-4,"Piao":-5.2e-4},
      {"x":5252,"Catingueira":0.7e-4,"Jurema":7.8e-4,"Marmeleiro":1.8e-4,"Mufumbo":0.85e-4,"PauSserrote":1.3e-4,"Piao":5.3e-4},
      {"x":5242,"Catingueira":-0.7e-4,"Jurema":-5.2e-4,"Marmeleiro":-1.8e-4,"Mufumbo":-0.8e-4,"PauSserrote":-1.5e-4,"Piao":-4.8e-4},
      {"x":5232,"Catingueira":0.65e-4,"Jurema":8.5e-4,"Marmeleiro":1.7e-4,"Mufumbo":0.8e-4,"PauSserrote":1.2e-4,"Piao":5.0e-4},
      {"x":5222,"Catingueira":-0.6e-4,"Jurema":-6.0e-4,"Marmeleiro":-1.6e-4,"Mufumbo":-0.75e-4,"PauSserrote":-1.3e-4,"Piao":-4.4e-4},
      {"x":5212,"Catingueira":0.6e-4,"Jurema":12.4e-4,"Marmeleiro":1.6e-4,"Mufumbo":0.7e-4,"PauSserrote":1.1e-4,"Piao":4.8e-4},
      {"x":5202,"Catingueira":-0.55e-4,"Jurema":-9.2e-4,"Marmeleiro":-1.5e-4,"Mufumbo":-0.65e-4,"PauSserrote":-1.1e-4,"Piao":-4.1e-4},
      {"x":5192,"Catingueira":0.5e-4,"Jurema":7.0e-4,"Marmeleiro":1.4e-4,"Mufumbo":0.6e-4,"PauSserrote":1.0e-4,"Piao":4.4e-4},
      {"x":5182,"Catingueira":-0.45e-4,"Jurema":-6.5e-4,"Marmeleiro":-1.3e-4,"Mufumbo":-0.55e-4,"PauSserrote":-0.9e-4,"Piao":-3.9e-4},
      {"x":5172,"Catingueira":0.4e-4,"Jurema":5.0e-4,"Marmeleiro":1.1e-4,"Mufumbo":0.5e-4,"PauSserrote":0.8e-4,"Piao":3.4e-4},
      {"x":5162,"Catingueira":-0.35e-4,"Jurema":-3.5e-4,"Marmeleiro":-1.0e-4,"Mufumbo":-0.45e-4,"PauSserrote":-0.7e-4,"Piao":-3.0e-4},
      {"x":5152,"Catingueira":0.3e-4,"Jurema":3.9e-4,"Marmeleiro":0.8e-4,"Mufumbo":0.4e-4,"PauSserrote":0.6e-4,"Piao":2.4e-4},
      {"x":5142,"Catingueira":-0.3e-4,"Jurema":-2.8e-4,"Marmeleiro":-0.6e-4,"Mufumbo":-0.35e-4,"PauSserrote":-0.5e-4,"Piao":-2.0e-4},
      {"x":5132,"Catingueira":0.25e-4,"Jurema":1.8e-4,"Marmeleiro":0.5e-4,"Mufumbo":0.3e-4,"PauSserrote":0.4e-4,"Piao":1.3e-4},
      {"x":5122,"Catingueira":-0.2e-4,"Jurema":-1.8e-4,"Marmeleiro":-0.35e-4,"Mufumbo":-0.25e-4,"PauSserrote":-0.3e-4,"Piao":-0.9e-4},
      {"x":5072,"Catingueira":-0.15e-4,"Jurema":0.25e-4,"Marmeleiro":-0.15e-4,"Mufumbo":0.15e-4,"PauSserrote":-0.15e-4,"Piao":0.2e-4},
      {"x":5012,"Catingueira":0.15e-4,"Jurema":-0.25e-4,"Marmeleiro":0.15e-4,"Mufumbo":-0.15e-4,"PauSserrote":0.15e-4,"Piao":-0.15e-4},
      {"x":4952,"Catingueira":-0.15e-4,"Jurema":0.2e-4,"Marmeleiro":-0.12e-4,"Mufumbo":0.12e-4,"PauSserrote":-0.15e-4,"Piao":0.12e-4},
      {"x":4892,"Catingueira":0.12e-4,"Jurema":-0.15e-4,"Marmeleiro":0.15e-4,"Mufumbo":-0.1e-4,"PauSserrote":0.1e-4,"Piao":-0.08e-4},
      {"x":4832,"Catingueira":-0.1e-4,"Jurema":0.12e-4,"Marmeleiro":-0.1e-4,"Mufumbo":0.12e-4,"PauSserrote":-0.12e-4,"Piao":0.06e-4},
      {"x":4772,"Catingueira":0.12e-4,"Jurema":-0.1e-4,"Marmeleiro":0.08e-4,"Mufumbo":-0.1e-4,"PauSserrote":0.12e-4,"Piao":-0.05e-4},
      {"x":4712,"Catingueira":-0.08e-4,"Jurema":0.12e-4,"Marmeleiro":-0.12e-4,"Mufumbo":0.08e-4,"PauSserrote":-0.08e-4,"Piao":0.05e-4},
      {"x":4652,"Catingueira":0.1e-4,"Jurema":-0.08e-4,"Marmeleiro":0.1e-4,"Mufumbo":-0.12e-4,"PauSserrote":0.1e-4,"Piao":-0.05e-4},
      {"x":4592,"Catingueira":-0.12e-4,"Jurema":0.1e-4,"Marmeleiro":-0.08e-4,"Mufumbo":0.1e-4,"PauSserrote":-0.12e-4,"Piao":0.05e-4},
      {"x":4532,"Catingueira":0.08e-4,"Jurema":-0.12e-4,"Marmeleiro":0.12e-4,"Mufumbo":-0.08e-4,"PauSserrote":0.08e-4,"Piao":-0.05e-4},
      {"x":4472,"Catingueira":-0.1e-4,"Jurema":0.08e-4,"Marmeleiro":-0.12e-4,"Mufumbo":0.12e-4,"PauSserrote":-0.1e-4,"Piao":0.06e-4},
      {"x":4412,"Catingueira":0.12e-4,"Jurema":-0.12e-4,"Marmeleiro":0.08e-4,"Mufumbo":-0.1e-4,"PauSserrote":0.12e-4,"Piao":-0.06e-4},
      {"x":4352,"Catingueira":-0.1e-4,"Jurema":0.12e-4,"Marmeleiro":-0.12e-4,"Mufumbo":0.08e-4,"PauSserrote":-0.12e-4,"Piao":0.08e-4},
      {"x":4292,"Catingueira":0.12e-4,"Jurema":-0.12e-4,"Marmeleiro":0.15e-4,"Mufumbo":-0.12e-4,"PauSserrote":0.1e-4,"Piao":-0.08e-4},
      {"x":4278,"Catingueira":0.25e-4,"Jurema":-0.2e-4,"Marmeleiro":-0.3e-4,"Mufumbo":0.2e-4,"PauSserrote":-0.25e-4,"Piao":0.15e-4},
      {"x":4264,"Catingueira":-0.2e-4,"Jurema":0.25e-4,"Marmeleiro":0.25e-4,"Mufumbo":-0.2e-4,"PauSserrote":0.3e-4,"Piao":-0.15e-4},
      {"x":4250,"Catingueira":0.3e-4,"Jurema":-0.3e-4,"Marmeleiro":-0.2e-4,"Mufumbo":0.15e-4,"PauSserrote":-0.3e-4,"Piao":0.2e-4},
      {"x":4236,"Catingueira":-0.25e-4,"Jurema":0.2e-4,"Marmeleiro":0.3e-4,"Mufumbo":-0.2e-4,"PauSserrote":0.2e-4,"Piao":-0.2e-4},
      {"x":4222,"Catingueira":0.2e-4,"Jurema":-0.25e-4,"Marmeleiro":-0.35e-4,"Mufumbo":0.2e-4,"PauSserrote":-0.25e-4,"Piao":0.2e-4},
      {"x":4208,"Catingueira":-0.3e-4,"Jurema":0.3e-4,"Marmeleiro":0.25e-4,"Mufumbo":-0.15e-4,"PauSserrote":0.3e-4,"Piao":-0.25e-4},
      {"x":4194,"Catingueira":0.25e-4,"Jurema":-0.3e-4,"Marmeleiro":-0.3e-4,"Mufumbo":0.2e-4,"PauSserrote":-0.35e-4,"Piao":0.25e-4},
      {"x":4180,"Catingueira":-0.2e-4,"Jurema":0.35e-4,"Marmeleiro":0.3e-4,"Mufumbo":-0.2e-4,"PauSserrote":0.25e-4,"Piao":-0.2e-4},
      {"x":4166,"Catingueira":0.3e-4,"Jurema":-0.4e-4,"Marmeleiro":-0.25e-4,"Mufumbo":0.25e-4,"PauSserrote":-0.3e-4,"Piao":0.3e-4},
      {"x":4152,"Catingueira":-0.25e-4,"Jurema":0.3e-4,"Marmeleiro":0.3e-4,"Mufumbo":-0.2e-4,"PauSserrote":0.35e-4,"Piao":-0.3e-4},
      {"x":4138,"Catingueira":0.2e-4,"Jurema":-0.5e-4,"Marmeleiro":-0.3e-4,"Mufumbo":0.2e-4,"PauSserrote":-0.3e-4,"Piao":0.35e-4},
      {"x":4124,"Catingueira":-0.25e-4,"Jurema":0.4e-4,"Marmeleiro":0.35e-4,"Mufumbo":-0.25e-4,"PauSserrote":0.3e-4,"Piao":-0.3e-4},
      {"x":4110,"Catingueira":0.3e-4,"Jurema":-0.4e-4,"Marmeleiro":-0.3e-4,"Mufumbo":0.2e-4,"PauSserrote":-0.35e-4,"Piao":0.4e-4},
      {"x":4096,"Catingueira":-0.3e-4,"Jurema":1.2e-4,"Marmeleiro":0.3e-4,"Mufumbo":-0.25e-4,"PauSserrote":0.4e-4,"Piao":-0.4e-4},
      {"x":4082,"Catingueira":0.25e-4,"Jurema":-0.5e-4,"Marmeleiro":-0.35e-4,"Mufumbo":0.3e-4,"PauSserrote":-0.3e-4,"Piao":0.5e-4},
      {"x":4068,"Catingueira":-0.3e-4,"Jurema":0.7e-4,"Marmeleiro":0.4e-4,"Mufumbo":-0.3e-4,"PauSserrote":0.35e-4,"Piao":-0.45e-4},
      {"x":4054,"Catingueira":0.3e-4,"Jurema":-0.6e-4,"Marmeleiro":-0.35e-4,"Mufumbo":0.35e-4,"PauSserrote":-0.4e-4,"Piao":0.7e-4},
      {"x":4040,"Catingueira":-0.35e-4,"Jurema":2.2e-4,"Marmeleiro":0.45e-4,"Mufumbo":-0.3e-4,"PauSserrote":0.5e-4,"Piao":-0.5e-4},
      {"x":4026,"Catingueira":0.3e-4,"Jurema":-1.2e-4,"Marmeleiro":-0.4e-4,"Mufumbo":0.4e-4,"PauSserrote":-0.45e-4,"Piao":1.2e-4},
      {"x":4012,"Catingueira":-0.3e-4,"Jurema":1.5e-4,"Marmeleiro":0.4e-4,"Mufumbo":-0.35e-4,"PauSserrote":0.4e-4,"Piao":-0.6e-4},
      {"x":3998,"Catingueira":0.25e-4,"Jurema":-0.7e-4,"Marmeleiro":-0.35e-4,"Mufumbo":0.3e-4,"PauSserrote":-0.35e-4,"Piao":1.3e-4}
    ],
    "elipses": [
      {"rotulo": "1", "x": 7200, "y": 0.000034, "tx": 6964, "ty": 0.000807},
      {"rotulo": "2", "x": 4137, "y": -0.00009, "tx": 4052, "ty": 0.00035}
    ]
  },
  "layer": [
    {
      "data": {"values": [{}]},
      "mark": {"type": "rect", "fill": null, "fillOpacity": 0, "stroke": "#5a5a5a", "strokeWidth": 1.5, "clip": false},
      "encoding": {
        "x": {"datum": 10826, "type": "quantitative"},
        "x2": {"datum": 3700},
        "y": {"datum": 0.002758, "type": "quantitative"},
        "y2": {"datum": -0.0016}
      }
    },
    {
      "data": {"name": "espectros"},
      "transform": [
        {"fold": ["Catingueira", "Jurema", "Marmeleiro", "Mufumbo", "PauSserrote", "Piao"], "as": ["serie", "valor"]}
      ],
      "mark": {"type": "line", "strokeWidth": 1.1, "interpolate": "linear"},
      "encoding": {
        "x": {
          "field": "x",
          "type": "quantitative",
          "scale": {"domain": [9996, 3995], "nice": false, "zero": false},
          "axis": {
            "title": "Número de onda (cm-1)",
            "values": [9996, 9609, 9213, 8820, 8424, 8031, 7638, 7242, 6849, 6453, 6060, 5666, 5271, 4877, 4482, 4089],
            "format": "d",
            "grid": false,
            "ticks": false,
            "offset": 1.5,
            "domainColor": "#000000",
            "domainWidth": 4,
            "labelFont": "Liberation Sans",
            "labelFontSize": 22,
            "labelColor": "#000000",
            "labelPadding": 8.5,
            "labelFlush": false,
            "labelOverlap": false,
            "titleFont": "Liberation Sans",
            "titleFontSize": 23.5,
            "titleFontWeight": "normal",
            "titleColor": "#000000",
            "titlePadding": 3
          }
        },
        "y": {
          "field": "valor",
          "type": "quantitative",
          "scale": {"domain": [-0.001, 0.002], "nice": false, "zero": false},
          "axis": {
            "title": "Segund derivada",
            "values": [-0.001, 0, 0.001, 0.002],
            "labelExpr": "datum.value === 0 ? '0' : replace(replace(format(datum.value, '.3f'), '.', ','), '\u2212', '-')",
            "grid": false,
            "tickSize": 4,
            "tickColor": "#444444",
            "domainColor": "#444444",
            "domainWidth": 1.3,
            "labelFont": "Liberation Sans",
            "labelFontSize": 21,
            "labelColor": "#000000",
            "labelPadding": 6,
            "labelFlush": false,
            "titleFont": "Liberation Sans",
            "titleFontSize": 23,
            "titleFontWeight": "normal",
            "titleColor": "#000000",
            "titlePadding": 18
          }
        },
        "color": {
          "field": "serie",
          "type": "nominal",
          "scale": {
            "domain": ["Catingueira", "Jurema", "Marmeleiro", "Mufumbo", "PauSserrote", "Piao"],
            "range": ["#0000ff", "#ff0000", "#008000", "#a6caf0", "#800000", "#c0c0c0"]
          },
          "legend": {
            "title": null,
            "orient": "none",
            "legendX": 144,
            "legendY": -89,
            "direction": "horizontal",
            "columns": 3,
            "gridAlign": "all",
            "columnPadding": 12,
            "rowPadding": 0,
            "clipHeight": 25,
            "padding": 0,
            "symbolType": "stroke",
            "symbolSize": 3600,
            "symbolStrokeWidth": 3,
            "labelFont": "Liberation Sans",
            "labelFontSize": 21.5,
            "labelColor": "#000000",
            "labelOffset": 7,
            "labelLimit": 300
          }
        }
      }
    },
    {
      "data": {"values": [{}]},
      "mark": {"type": "rule", "color": "#000000", "strokeWidth": 1},
      "encoding": {"y": {"datum": 0, "type": "quantitative"}}
    },
    {
      "data": {"name": "elipses"},
      "transform": [{"filter": "datum.rotulo === '1'"}],
      "mark": {
        "type": "point",
        "shape": "M0,-1C0.176,-1,0.319,-0.552,0.319,0C0.319,0.552,0.176,1,0,1C-0.176,1,-0.319,0.552,-0.319,0C-0.319,-0.552,-0.176,-1,0,-1Z",
        "size": 77841,
        "filled": false,
        "stroke": "#222222",
        "strokeWidth": 1.2,
        "opacity": 1
      },
      "encoding": {
        "x": {"field": "x", "type": "quantitative"},
        "y": {"field": "y", "type": "quantitative"}
      }
    },
    {
      "data": {"name": "elipses"},
      "transform": [{"filter": "datum.rotulo === '2'"}],
      "mark": {
        "type": "point",
        "shape": "M0,-1C0.26,-1,0.47,-0.552,0.47,0C0.47,0.552,0.26,1,0,1C-0.26,1,-0.47,0.552,-0.47,0C-0.47,-0.552,-0.26,-1,0,-1Z",
        "size": 13689,
        "filled": false,
        "stroke": "#222222",
        "strokeWidth": 1.2,
        "opacity": 1
      },
      "encoding": {
        "x": {"field": "x", "type": "quantitative"},
        "y": {"field": "y", "type": "quantitative"}
      }
    },
    {
      "data": {"name": "elipses"},
      "mark": {"type": "text", "font": "Liberation Sans", "fontSize": 26, "color": "#000000", "align": "center", "baseline": "middle"},
      "encoding": {
        "x": {"field": "tx", "type": "quantitative"},
        "y": {"field": "ty", "type": "quantitative"},
        "text": {"field": "rotulo"}
      }
    }
  ]
}
